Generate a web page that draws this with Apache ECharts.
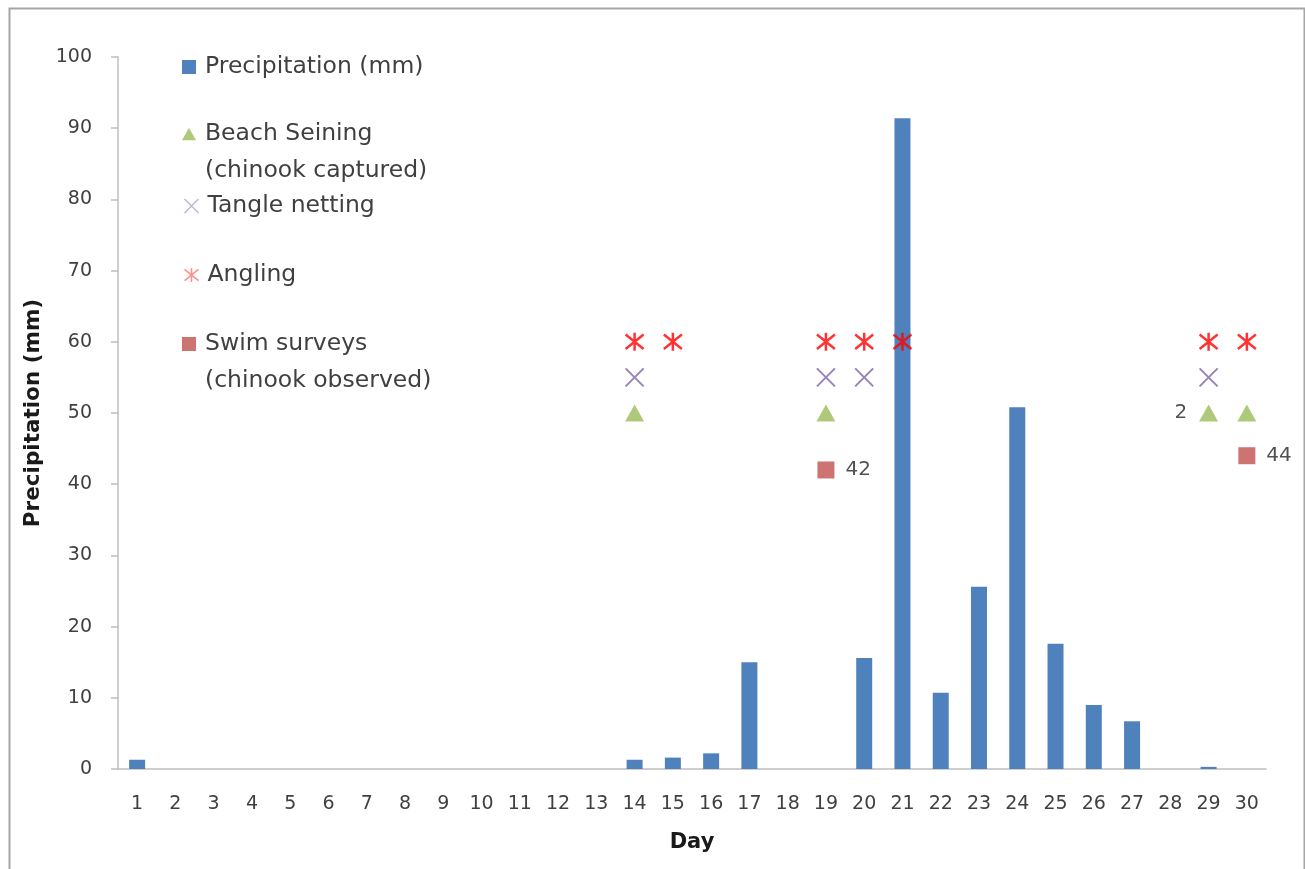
<!DOCTYPE html>
<html>
<head>
<meta charset="utf-8">
<script src="https://cdn.jsdelivr.net/npm/echarts@6/dist/echarts.min.js"></script>
<style>
html,body{margin:0;padding:0;background:#fff;}
#chart{width:1305px;height:869px;}
</style>
</head>
<body>
<div id="chart"></div>
<script>
// ---- data ----
var days = ['1','2','3','4','5','6','7','8','9','10','11','12','13','14','15','16','17','18','19','20','21','22','23','24','25','26','27','28','29','30'];
var precipitation = [1.3,0,0,0,0,0,0,0,0,0,0,0,0,1.3,1.6,2.2,15.0,0,0,15.6,91.4,10.7,25.6,50.8,17.6,9.0,6.7,0,0.3,0];
var beachDays = ['14','19','29','30'];
var beachLevel = 50;
var beachLabels = ['', '', '2', ''];
var tangleDays = ['14','19','20','29'];
var tangleLevel = 55;
var anglingDays = ['14','15','19','20','21','29','30'];
var anglingLevel = 60;
var swimDays = ['19','30'];
var swimValues = [42, 44];
var yTicks = [0,10,20,30,40,50,60,70,80,90,100];

var FONT = '"DejaVu Sans"';
var TXT = '#404040';
var xPath = 'path://M0,0L10,10M10,0L0,10';
var starPath = 'path://M0,1L10,9M10,1L0,9M5,0L5,10';
var triPath = 'path://M5,0L10,9L0,9Z';
var sqPath = 'path://M0,0H10V10H0Z';

function mk(days, level) { return days.map(function (d) { return [d, level]; }); }

var chart = echarts.init(document.getElementById('chart'), null, {renderer: 'canvas'});

function legendItem(name, iconCenterY, twoLine, icon, itemStyle) {
  var L = 37;
  var h = twoLine ? 3 * L : L;
  return {
    show: true,
    orient: 'vertical',
    left: 182,
    top: iconCenterY - h / 2,
    padding: 0,
    itemWidth: 14,
    itemHeight: 14,
    selectedMode: false,
    data: [{name: name, icon: icon, itemStyle: itemStyle}],
    formatter: function (n) { return twoLine ? ' \n' + n : n; },
    textStyle: {
      fontFamily: FONT,
      fontSize: 23.5,
      color: TXT,
      lineHeight: L,
      padding: [0, 0, 0, 4]
    }
  };
}

var option = {
  animation: false,
  backgroundColor: '#ffffff',
  graphic: [{
    type: 'rect',
    left: 7, top: 6,
    shape: {width: 1295, height: 900},
    style: {fill: 'none', stroke: '#a6a6a6', lineWidth: 2},
    silent: true,
    z: 100
  }],
  legend: [
    legendItem('Precipitation (mm)', 67, false, sqPath, {color: '#4f81bd'}),
    legendItem('Beach Seining\n(chinook captured)', 134, true, triPath, {color: '#9bbb59'}),
    legendItem('Tangle netting', 206, false, xPath, {color: 'none', borderColor: '#b3a2c7', borderWidth: 1.5}),
    legendItem('Angling', 275, false, starPath, {color: 'none', borderColor: '#ff7070', borderWidth: 1.5}),
    legendItem('Swim surveys\n(chinook observed)', 344, true, sqPath, {color: '#c0504d'})
  ],
  grid: {left: 118, right: 39, top: 57, bottom: 100, containLabel: false},
  xAxis: {
    type: 'category',
    data: days,
    boundaryGap: true,
    name: 'Day',
    nameLocation: 'middle',
    nameGap: 63,
    nameTextStyle: {fontFamily: FONT, fontWeight: 'bold', fontSize: 21, color: '#1a1a1a'},
    axisLine: {show: true, lineStyle: {color: '#bfbfbf', width: 1.5}},
    axisTick: {show: false},
    axisLabel: {fontFamily: FONT, fontSize: 19, color: TXT, margin: 26, interval: 0},
    splitLine: {show: false}
  },
  yAxis: {
    type: 'value',
    min: 0, max: 100, interval: 10,
    name: 'Precipitation (mm)',
    nameLocation: 'middle',
    nameGap: 73,
    nameRotate: 90,
    nameTextStyle: {fontFamily: FONT, fontWeight: 'bold', fontSize: 21.5, color: '#1a1a1a'},
    axisLine: {show: true, lineStyle: {color: '#bfbfbf', width: 1.5}},
    axisTick: {show: true, inside: false, length: 7, lineStyle: {color: '#bfbfbf', width: 1.5}},
    axisLabel: {fontFamily: FONT, fontSize: 19, color: TXT, margin: 26,
      formatter: function (v) { return yTicks.indexOf(v) >= 0 ? String(v) : ''; }},
    splitLine: {show: false}
  },
  series: [
    {
      name: 'Precipitation (mm)',
      type: 'bar',
      data: precipitation,
      barWidth: 16,
      itemStyle: {color: '#4f81bd'},
      z: 2
    },
    {
      name: 'Beach Seining\n(chinook captured)',
      type: 'scatter',
      data: mk(beachDays, beachLevel),
      symbol: triPath,
      symbolSize: [19, 17],
      symbolKeepAspect: false,
      itemStyle: {color: '#9bbb59'},
      label: {
        show: true, position: 'left', distance: 12,
        fontFamily: FONT, fontSize: 20, color: '#262626',
        formatter: function (p) { return beachLabels[p.dataIndex]; }
      },
      z: 3
    },
    {
      name: 'Tangle netting',
      type: 'scatter',
      data: mk(tangleDays, tangleLevel),
      symbol: xPath,
      symbolSize: 18,
      itemStyle: {color: 'none', borderColor: '#8064a2', borderWidth: 2},
      z: 3
    },
    {
      name: 'Angling',
      type: 'scatter',
      data: mk(anglingDays, anglingLevel),
      symbol: starPath,
      symbolSize: 18,
      itemStyle: {color: 'none', borderColor: '#ff0000', borderWidth: 2.5},
      z: 4
    },
    {
      name: 'Swim surveys\n(chinook observed)',
      type: 'scatter',
      data: swimDays.map(function (d, i) { return [d, swimValues[i]]; }),
      symbol: sqPath,
      symbolSize: 17,
      itemStyle: {color: '#c0504d'},
      label: {
        show: true, position: 'right', distance: 11,
        fontFamily: FONT, fontSize: 20, color: '#262626',
        formatter: function (p) { return String(swimValues[p.dataIndex]); }
      },
      z: 3
    }
  ]
};
chart.setOption(option);
</script>
</body>
</html>
